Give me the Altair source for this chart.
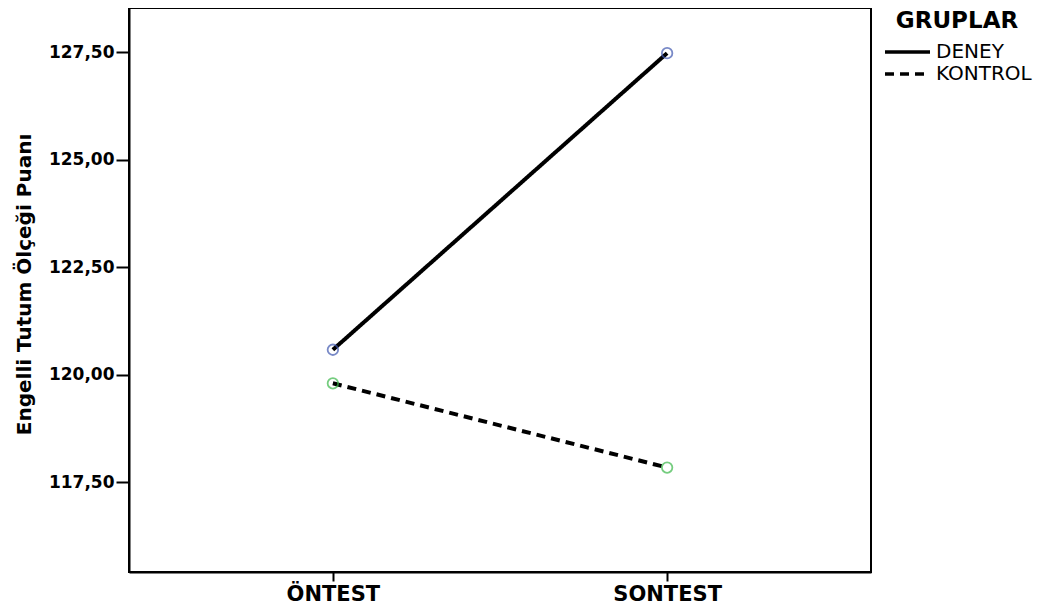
import altair as alt
import pandas as pd

phases = ["ÖNTEST", "SONTEST"]
groups = ["DENEY", "KONTROL"]
deney = [120.58, 127.48]
kontrol = [119.80, 117.84]
y_ticks = [117.5, 120.0, 122.5, 125.0, 127.5]

rows = []
for g, vals in zip(groups, [deney, kontrol]):
    for p, v in zip(phases, vals):
        rows.append({"Test": p, "Grup": g, "Puan": v})
df = pd.DataFrame(rows)

x_enc = alt.X(
    "Test:N",
    sort=phases,
    scale=alt.Scale(type="point", padding=0.61),
    axis=alt.Axis(
        title=None,
        labelAngle=0,
        labelFont="DejaVu Sans",
        labelFontWeight="bold",
        labelFontSize=21,
        labelColor="black",
        labelPadding=2,
        tickSize=9,
        tickWidth=2,
        tickColor="black",
        domainColor="black",
        domainWidth=2,
        grid=False,
    ),
)
y_enc = alt.Y(
    "Puan:Q",
    scale=alt.Scale(domain=[115.41, 128.53], nice=False, zero=False),
    axis=alt.Axis(
        title="Engelli Tutum Ölçeği Puanı",
        titleFont="DejaVu Sans",
        titleFontWeight="bold",
        titleFontSize=20,
        titleColor="black",
        titleAngle=270,
        titleAlign="center",
        titleBaseline="middle",
        titleX=-105,
        titleY=276,
        values=y_ticks,
        labelExpr="replace(format(datum.value, '.2f'), '.', ',')",
        labelFont="DejaVu Sans",
        labelFontWeight="bold",
        labelFontSize=17,
        labelColor="black",
        labelPadding=2,
        tickSize=13,
        tickWidth=2,
        tickColor="black",
        domainColor="black",
        domainWidth=2,
        grid=False,
    ),
)

lines = alt.Chart(df).mark_line(color="black", stroke="black", strokeWidth=4).encode(
    x=x_enc,
    y=y_enc,
    strokeDash=alt.StrokeDash(
        "Grup:N",
        scale=alt.Scale(domain=groups, range=[[1, 0], [9, 6]]),
        legend=alt.Legend(
            title="GRUPLAR",
            orient="none",
            legendX=754,
            legendY=2,
            titleFont="DejaVu Sans",
            titleFontWeight="bold",
            titleFontSize=23,
            titleColor="black",
            titleAnchor="middle",
            titlePadding=8,
            labelFont="DejaVu Sans",
            labelFontSize=20,
            labelColor="black",
            labelOffset=4,
            symbolType="stroke",
            symbolSize=2025,
            symbolStrokeWidth=3.5,
            symbolStrokeColor="black",
            clipHeight=22,
            rowPadding=0,
        ),
    ),
)

points = alt.Chart(df).mark_point(shape="circle", filled=False, size=110, strokeWidth=1.8).encode(
    x=x_enc,
    y=y_enc,
    stroke=alt.condition(
        alt.datum.Grup == "DENEY", alt.value("#4058B0"), alt.value("#3CB84A")
    ),
)

chart = (
    alt.layer(lines, points)
    .properties(
        width=742,
        height=564,
        autosize=alt.AutoSizeParams(type="none"),
        padding={"left": 121, "top": 0, "right": 164, "bottom": 36},
        background="white",
    )
    .configure_view(stroke="black", strokeWidth=2)
)

chart.save("out.html", embed_options={"renderer": "svg", "actions": False})
